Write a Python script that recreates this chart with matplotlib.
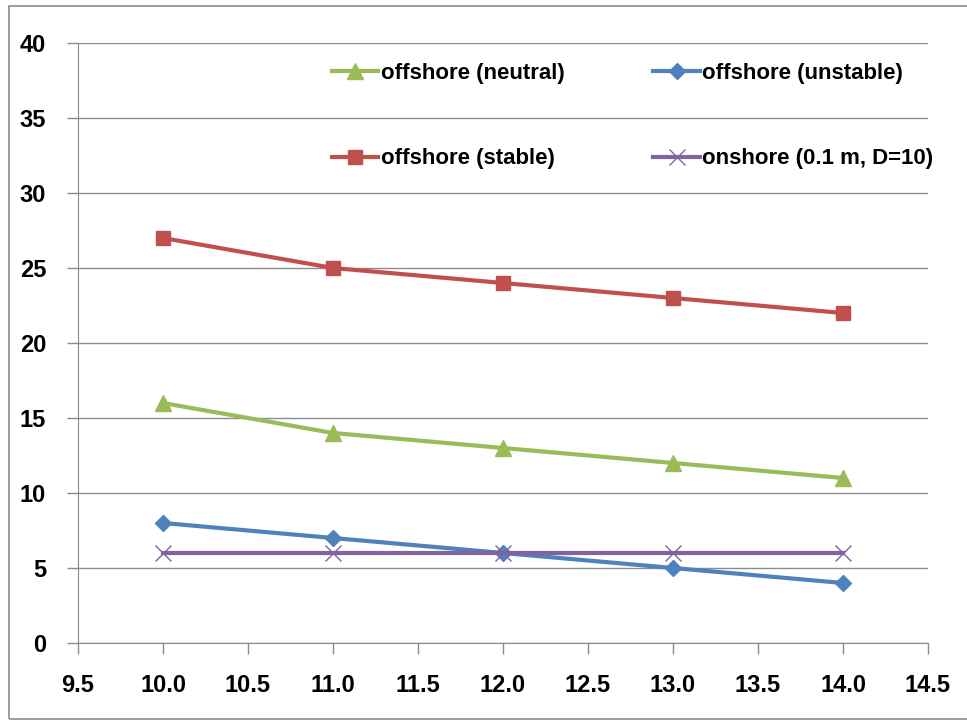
import matplotlib
matplotlib.use('Agg')
import matplotlib.pyplot as plt
from matplotlib.patches import Rectangle

# data
x = [10, 11, 12, 13, 14]
neutral = [16, 14, 13, 12, 11]
unstable = [8, 7, 6, 5, 4]
stable = [27, 25, 24, 23, 22]
onshore = [6, 6, 6, 6, 6]

xticks = [9.5, 10.0, 10.5, 11.0, 11.5, 12.0, 12.5, 13.0, 13.5, 14.0, 14.5]
yticks = [0, 5, 10, 15, 20, 25, 30, 35, 40]

plt.rcParams['font.family'] = ['Liberation Sans', 'DejaVu Sans']

fig = plt.figure(figsize=(9.67, 7.24), dpi=100)
fig.patches.append(Rectangle((9 / 967, 5 / 724), 1.0, 1 - 11 / 724,
                             transform=fig.transFigure, fill=False,
                             edgecolor='#8c8c8c', lw=1.2))
ax = fig.add_axes([78 / 967, 81 / 724, 850 / 967, 600 / 724])

l1, = ax.plot(x, neutral, color='#9BBB59', lw=3, marker='^', ms=11)
l2, = ax.plot(x, unstable, color='#4F81BD', lw=3, marker='D', ms=8)
l3, = ax.plot(x, stable, color='#C0504D', lw=3, marker='s', ms=10)
l4, = ax.plot(x, onshore, color='#8064A2', lw=3, marker='x', ms=11,
              mec='#8064A2', mew=1)

ax.set_xlim(9.5, 14.5)
ax.set_ylim(0, 40)
ax.set_xticks(xticks)
ax.set_xticklabels(['%.1f' % v for v in xticks])
ax.set_yticks(yticks)
ax.grid(axis='y', color='#8c8c8c', lw=1)
ax.set_axisbelow(True)
for s in ['top', 'right']:
    ax.spines[s].set_visible(False)
for s in ['left', 'bottom']:
    ax.spines[s].set_color('#8c8c8c')
ax.tick_params(axis='both', colors='#8c8c8c', length=8, width=1,
               labelcolor='black', labelsize=17)
ax.tick_params(axis='x', pad=14)
ax.tick_params(axis='y', pad=15)
for t in ax.get_xticklabels() + ax.get_yticklabels():
    t.set_fontweight('bold')

# column-wise fill: neutral/stable in col 1, unstable/onshore in col 2
leg = ax.legend([l1, l3, l2, l4],
                ['offshore (neutral)', 'offshore (stable)',
                 'offshore (unstable)', 'onshore (0.1 m, D=10)'],
                ncol=2, loc='upper left', bbox_to_anchor=(0.275, 1.0),
                frameon=False, handlelength=2.1, handletextpad=0.1,
                columnspacing=4.0, labelspacing=2.9,
                prop={'weight': 'bold', 'size': 16})

fig.savefig('out.png', dpi=100)
